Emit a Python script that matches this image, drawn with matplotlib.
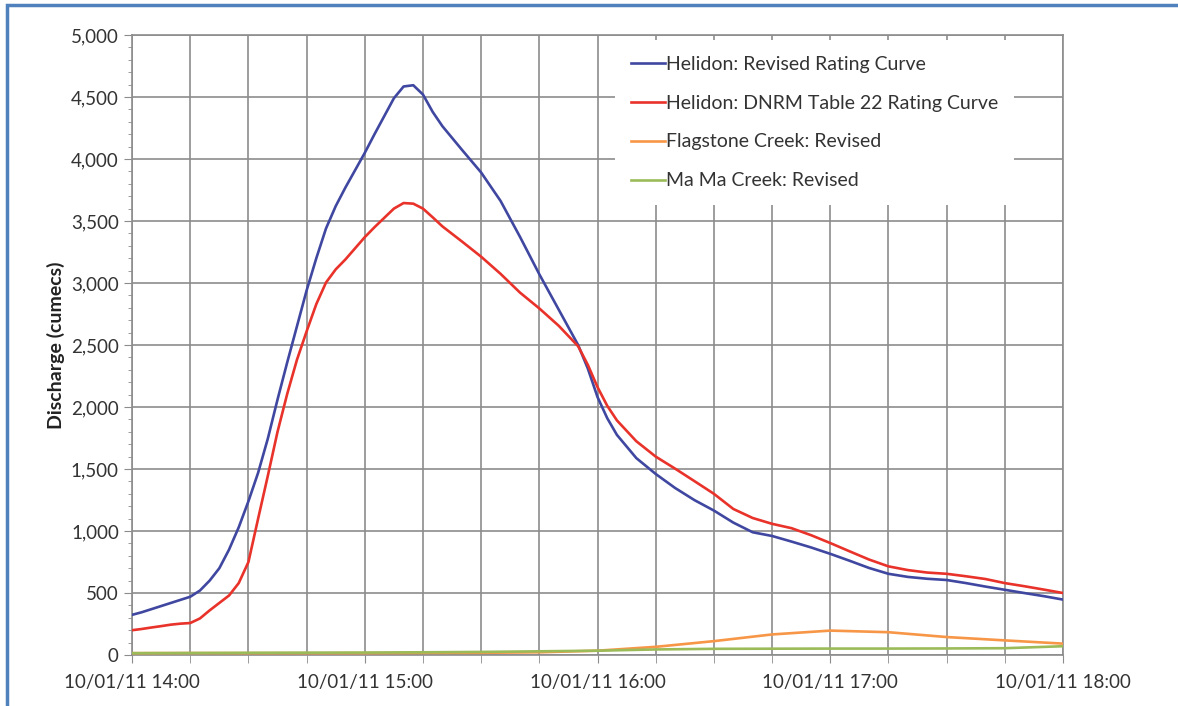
import numpy as np
import pandas as pd
import matplotlib
matplotlib.use("Agg")
import matplotlib.pyplot as plt
import matplotlib.dates as mdates
from matplotlib.ticker import MultipleLocator, FuncFormatter
from matplotlib.patches import Rectangle

# Discharge hydrographs, 10 Jan 2011, 14:00 - 18:00 (cumecs)
start = pd.Timestamp("2011-01-10 14:00")

# Helidon: minutes after 14:00 (denser where the curve bends)
helidon_min = [0, 2.5, 5, 7.5, 10, 12.5, 15, 17.5, 20, 22.5,
               25, 27.5, 30, 32.5, 35, 37.5, 40, 42.5, 45, 47.5,
               50, 52.5, 55, 57.5, 60, 62.5, 65, 67.5, 70, 72.5,
               75, 77.5, 80, 85, 90, 95, 100, 105, 110, 115,
               117.5, 120, 122.5, 125, 130, 135, 140, 145, 150, 155,
               160, 165, 170, 175, 180, 185, 190, 195, 200, 205,
               210, 215, 220, 225, 230, 235, 240]
helidon_revised = [324, 345, 370, 395, 420, 445, 470, 520, 600, 700,
                   850, 1030, 1240, 1470, 1745, 2060, 2360, 2650, 2940, 3200,
                   3440, 3620, 3770, 3910, 4050, 4200, 4345, 4490, 4585, 4595,
                   4520, 4380, 4265, 4076, 3891, 3662, 3373, 3070, 2785, 2500,
                   2310, 2080, 1910, 1775, 1588, 1460, 1347, 1249, 1165, 1068,
                   990, 960, 915, 868, 816, 760, 702, 655, 630, 615,
                   605, 580, 552, 526, 500, 475, 447]
helidon_dnrm = [200, 210, 222, 233, 245, 253, 258, 295, 360, 420,
                480, 580, 750, 1100, 1445, 1800, 2106, 2380, 2610, 2830,
                3004, 3110, 3190, 3280, 3370, 3450, 3525, 3600, 3645, 3640,
                3600, 3530, 3457, 3336, 3212, 3074, 2923, 2795, 2655, 2490,
                2340, 2160, 2010, 1892, 1724, 1600, 1503, 1402, 1300, 1178,
                1105, 1058, 1023, 967, 903, 836, 770, 715, 685, 665,
                655, 635, 613, 580, 555, 528, 500]

# Creeks, read every 15 minutes
creek_min = list(range(0, 245, 15))
flagstone = [15, 16, 15, 15, 15, 17, 18, 22, 35, 66, 112, 166, 197, 184, 145, 118, 92]
mamacreek = [15, 16, 18, 19, 20, 22, 25, 30, 35, 45, 50, 51, 52, 52, 53, 55, 71]

labels = ["Helidon: Revised Rating Curve",
          "Helidon: DNRM Table 22 Rating Curve",
          "Flagstone Creek: Revised",
          "Ma Ma Creek: Revised"]
colors = ["#3f47a0", "#e8322a", "#f79646", "#9bbb59"]

t_hel = start + pd.to_timedelta(helidon_min, unit="m")
t_crk = start + pd.to_timedelta(creek_min, unit="m")

plt.rcParams["font.family"] = ["Lato", "DejaVu Sans"]

fig = plt.figure(figsize=(11.78, 7.06), dpi=100)
ax = fig.add_axes([0.1121, 0.0722, 0.7903, 0.8782])

lw = 1.9
ax.plot(t_hel, helidon_revised, color=colors[0], lw=lw, label=labels[0], zorder=5)
ax.plot(t_hel, helidon_dnrm, color=colors[1], lw=lw, label=labels[1], zorder=5)
ax.plot(t_crk, flagstone, color=colors[2], lw=lw, label=labels[2], zorder=4)
ax.plot(t_crk, mamacreek, color=colors[3], lw=lw, label=labels[3], zorder=4)

ax.set_xlim(start, start + pd.Timedelta(hours=4))
ax.set_ylim(0, 5000)

ax.yaxis.set_major_locator(MultipleLocator(500))
ax.yaxis.set_minor_locator(MultipleLocator(100))
ax.yaxis.set_major_formatter(FuncFormatter(lambda v, p: f"{int(v):,}"))

ax.xaxis.set_major_locator(mdates.MinuteLocator(byminute=[0]))
ax.xaxis.set_minor_locator(mdates.MinuteLocator(byminute=[15, 30, 45]))
ax.xaxis.set_major_formatter(mdates.DateFormatter("%d/%m/%y %H:%M"))

grid_c = "#8c8c8c"
ax.grid(True, which="major", axis="both", color=grid_c, lw=1.2)
ax.grid(True, which="minor", axis="x", color=grid_c, lw=1.2)
for s in ax.spines.values():
    s.set_color(grid_c)
    s.set_linewidth(1.2)

ax.tick_params(axis="both", which="major", direction="out", length=6,
               color=grid_c, labelsize=13.5, labelcolor="#333333")
ax.tick_params(axis="x", which="minor", direction="out", length=6, color=grid_c)
ax.tick_params(axis="y", which="minor", direction="out", length=3, color=grid_c)
ax.tick_params(axis="x", which="major", pad=8)

ax.set_ylabel("Discharge (cumecs)", fontsize=14, fontweight="bold",
              color="#222222", labelpad=4)

leg = ax.legend(loc="upper left", bbox_to_anchor=(0.519, 0.992),
                borderaxespad=0, frameon=True, fancybox=False,
                facecolor="white", edgecolor="none", framealpha=1,
                fontsize=14, handlelength=1.75, handletextpad=0.05,
                labelspacing=1.13, borderpad=0.8)
leg.set_zorder(10)
for txt in leg.get_texts():
    txt.set_color("#333333")

# blue frame around the figure
fig.patches.append(Rectangle((7 / 1178, -0.05), 1.2, 1 - 5 / 706 + 0.05,
                             transform=fig.transFigure, fill=False,
                             edgecolor="#4f81bd", lw=2.5))

fig.savefig("out.png", dpi=100)
